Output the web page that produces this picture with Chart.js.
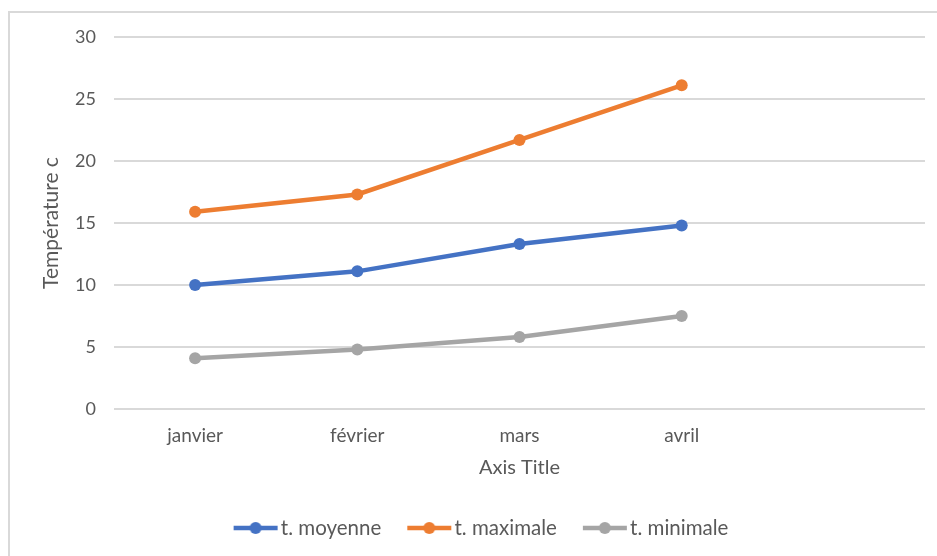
<!DOCTYPE html>
<html>
<head>
<meta charset="utf-8">
<script src="https://cdn.jsdelivr.net/npm/chart.js@4"></script>
<style>
  html, body { margin: 0; padding: 0; background: #ffffff; }
  #wrap { position: relative; width: 937px; height: 556px; overflow: hidden; }
  #frame {
    position: absolute; left: 8px; top: 11px; width: 1000px; height: 600px;
    border-left: 2px solid #d9d9d9; border-top: 2px solid #d9d9d9;
    box-sizing: border-box;
  }
  #c { position: absolute; left: 0; top: 0; }
</style>
</head>
<body>
<div id="wrap">
  <div id="frame"></div>
  <canvas id="c" width="937" height="556"></canvas>
</div>
<script>
// Monthly temperatures (°C)
const months = ['janvier', 'février', 'mars', 'avril', ''];
const tMoyenne = [10, 11.1, 13.3, 14.8];
const tMaximale = [15.9, 17.3, 21.7, 26.1];
const tMinimale = [4.1, 4.8, 5.8, 7.5];
const seriesNames = ['t. moyenne', 't. maximale', 't. minimale'];
const yTicks = [0, 5, 10, 15, 20, 25, 30];

const colors = ['#4472C4', '#ED7D31', '#A5A5A5'];
const FONT = 'Lato';
const TEXT = '#595959';

// Legend marker: a short thick line with a dot in the middle,
// shifted right inside its image so it sits close to the label text
function lineMarker(color) {
  const cv = document.createElement('canvas');
  cv.width = 52; cv.height = 14;
  const g = cv.getContext('2d');
  g.strokeStyle = color; g.lineWidth = 4.5; g.lineCap = 'butt';
  g.beginPath(); g.moveTo(7, 7); g.lineTo(51, 7); g.stroke();
  g.fillStyle = color;
  g.beginPath(); g.arc(29, 7, 6, 0, Math.PI * 2); g.fill();
  return cv;
}

function makeSet(label, data, color) {
  return {
    label, data,
    borderColor: color, backgroundColor: color,
    borderWidth: 4.5,
    pointRadius: 6, pointHoverRadius: 6,
    pointBackgroundColor: color, pointBorderWidth: 0,
    tension: 0
  };
}

// Center the legend under the whole frame rather than the padded layout box
const legendShift = {
  id: 'legendShift',
  afterLayout(chart) {
    const lg = chart.legend;
    if (lg) { lg.left += 19; lg.right += 19; }
  }
};

new Chart(document.getElementById('c'), {
  type: 'line',
  data: {
    labels: months,
    datasets: [
      makeSet(seriesNames[0], tMoyenne, colors[0]),
      makeSet(seriesNames[1], tMaximale, colors[1]),
      makeSet(seriesNames[2], tMinimale, colors[2])
    ]
  },
  plugins: [legendShift],
  options: {
    responsive: false,
    animation: false,
    layout: { padding: { left: 0, right: 12, top: 37, bottom: 7.75 } },
    plugins: {
      tooltip: { enabled: false },
      legend: {
        position: 'bottom',
        labels: {
          usePointStyle: true,
          pointStyleWidth: 36,
          boxHeight: 14,
          padding: 27,
          color: TEXT,
          font: { family: FONT, size: 20.5 },
          generateLabels: (chart) => chart.data.datasets.map((ds, i) => ({
            text: ds.label,
            fillStyle: ds.borderColor,
            strokeStyle: ds.borderColor,
            lineWidth: 0,
            pointStyle: lineMarker(ds.borderColor),
            hidden: false,
            datasetIndex: i,
            fontColor: TEXT
          }))
        }
      }
    },
    scales: {
      x: {
        type: 'category',
        offset: true,
        grid: { display: false, drawTicks: false },
        border: { display: false },
        ticks: { color: TEXT, font: { family: FONT, size: 19 }, padding: 15, maxRotation: 0, autoSkip: false },
        title: {
          display: true, text: 'Axis Title', color: TEXT,
          font: { family: FONT, size: 20 }, padding: { top: 0, bottom: 10.75 }
        },
        afterFit: (s) => { s.height = 81.75; }
      },
      y: {
        min: 0, max: 30,
        afterBuildTicks: (s) => { s.ticks = yTicks.map(v => ({ value: v })); },
        grid: { color: '#d9d9d9', lineWidth: 2, drawTicks: false },
        border: { display: false },
        ticks: { color: TEXT, font: { family: FONT, size: 18 }, padding: 18 },
        title: {
          display: true, text: 'Température c', color: TEXT,
          font: { family: FONT, size: 21 }, padding: { top: 39, bottom: 0 }
        },
        afterFit: (s) => { s.width = 114; }
      }
    }
  }
});
</script>
</body>
</html>
